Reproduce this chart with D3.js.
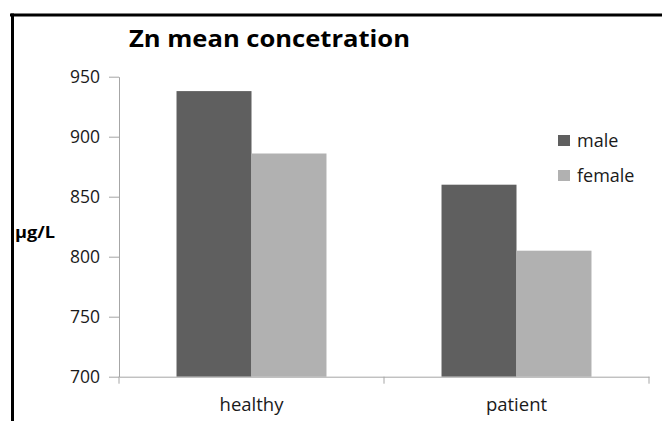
<!DOCTYPE html>
<html>
<head>
<meta charset="utf-8">
<script src="https://cdn.jsdelivr.net/npm/d3@7"></script>
<style>
  html, body { margin: 0; padding: 0; background: #fff; }
  svg { display: block; }
</style>
</head>
<body>
<svg id="chart" width="662" height="421"></svg>
<script>
// ---- data ----
const categories = ["healthy", "patient"];
const seriesNames = ["male", "female"];
const maleValues = [938, 860];
const femaleValues = [886, 805];
const yTicks = [700, 750, 800, 850, 900, 950];
const titleText = "Zn mean concetration";
const yLabelText = "\u03bcg/L";

const seriesValues = { male: maleValues, female: femaleValues };
const colors = { male: "#5f5f5f", female: "#b1b1b1" };

const svg = d3.select("#chart");
const font = "'Open Sans', 'Liberation Sans', sans-serif";

// frame (top and left edges visible)
svg.append("line").attr("x1", 10).attr("x2", 662).attr("y1", 15).attr("y2", 15)
  .attr("stroke", "#000").attr("stroke-width", 3);
svg.append("line").attr("x1", 12.5).attr("x2", 12.5).attr("y1", 13.5).attr("y2", 421)
  .attr("stroke", "#000").attr("stroke-width", 3);

// scales
const y = d3.scaleLinear().domain([700, 950]).range([376.7, 76.7]);
const x = d3.scaleBand().domain(categories).range([119, 649]).paddingInner(0).paddingOuter(0);
const x1 = d3.scaleBand().domain(seriesNames).range([0, x.bandwidth()]).paddingInner(0).paddingOuter(0.767);

// bars
const rows = categories.map((c, i) => ({ cat: c, vals: seriesNames.map(s => ({ s, v: seriesValues[s][i] })) }));
const g = svg.append("g");
g.selectAll("g.cat").data(rows).join("g").attr("class", "cat")
  .attr("transform", d => `translate(${x(d.cat)},0)`)
  .selectAll("rect").data(d => d.vals).join("rect")
  .attr("x", d => x1(d.s))
  .attr("width", x1.bandwidth())
  .attr("y", d => y(d.v))
  .attr("height", d => y(700) - y(d.v))
  .attr("fill", d => colors[d.s]);

// y axis
const yAxis = svg.append("g").attr("transform", "translate(119,0)")
  .call(d3.axisLeft(y).tickValues(yTicks).tickSize(10).tickSizeOuter(0).tickPadding(9).tickFormat(d3.format("d")));
yAxis.select(".domain").attr("stroke", "#a6a6a6");
yAxis.selectAll(".tick line").attr("stroke", "#a6a6a6");
yAxis.selectAll(".tick text").attr("font-family", font).attr("font-size", 17.5).attr("fill", "#1a1a1a");

// x axis
const xAxis = svg.append("g").attr("transform", `translate(0,${y(700)})`)
  .call(d3.axisBottom(x).tickSize(0).tickSizeOuter(0).tickPadding(21));
xAxis.select(".domain").attr("stroke", "#a6a6a6");
xAxis.selectAll(".tick text").attr("font-family", font).attr("font-size", 18.5).attr("fill", "#1a1a1a");
const bounds = [x(categories[0])].concat(categories.map(c => x(c) + x.bandwidth()));
xAxis.selectAll("line.bound").data(bounds).join("line").attr("class", "bound")
  .attr("x1", d => d).attr("x2", d => d).attr("y1", 0).attr("y2", 7)
  .attr("stroke", "#a6a6a6");

// title
svg.append("text").attr("x", 129).attr("y", 47)
  .attr("font-family", font).attr("font-weight", "bold").attr("font-size", 23.5)
  .attr("textLength", 281).attr("lengthAdjust", "spacingAndGlyphs")
  .attr("fill", "#000").text(titleText);

// y label
svg.append("text").attr("x", 15).attr("y", 238)
  .attr("font-family", font).attr("font-weight", "bold").attr("font-size", 16)
  .attr("textLength", 40).attr("lengthAdjust", "spacingAndGlyphs")
  .attr("fill", "#000").text(yLabelText);

// legend
const leg = svg.append("g");
seriesNames.forEach((s, i) => {
  const yy = 135 + i * 35;
  leg.append("rect").attr("x", 558).attr("y", yy).attr("width", 12).attr("height", 11).attr("fill", colors[s]);
  leg.append("text").attr("x", 577).attr("y", yy + 12).attr("font-family", font).attr("font-size", 18)
    .attr("fill", "#1a1a1a").text(s);
});
</script>
</body>
</html>
